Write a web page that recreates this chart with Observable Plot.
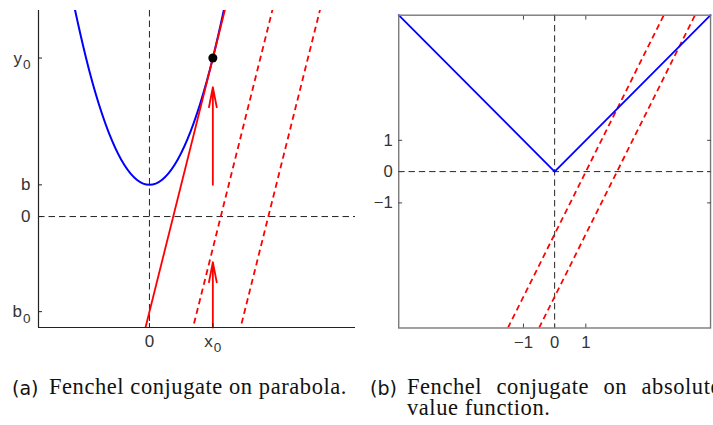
<!DOCTYPE html>
<html><head><meta charset="utf-8">
<script src="https://cdn.jsdelivr.net/npm/d3@7"></script>
<script src="https://cdn.jsdelivr.net/npm/@observablehq/plot@0.6"></script>
<style>
html,body{margin:0;padding:0;background:#fff;}
body{width:713px;height:425px;overflow:hidden;position:relative;}
#left{position:absolute;left:0;top:0;}
#right{position:absolute;left:360px;top:0;}
.cap{position:absolute;white-space:nowrap;line-height:20px;color:#111;}
.sans{font-family:"DejaVu Sans",sans-serif;font-size:19px;}
.serif{font-family:"Liberation Serif",serif;font-size:22.5px;}
</style></head><body>
<div id="left"></div><div id="right"></div>
<div class="cap sans" style="left:12px;top:378px">(a)</div>
<div class="cap serif" id="capA" style="left:49px;top:377px">Fenchel conjugate on parabola.</div>
<div class="cap sans" style="left:370px;top:378px">(b)</div>
<div class="cap serif" id="capB1" style="left:407px;top:377px">Fenchel conjugate on absolute</div>
<div class="cap serif" id="capB2" style="left:407px;top:398px">value function.</div>
<script>
// ---------- Panel (a): parabola ----------
const xDomainA = [-1.75, 3.25];
const yDomainA = [-0.875, 1.625];
const parabolaX = [-1.3, -1.2, -1.0, -0.8, -0.6, -0.4, -0.2, 0, 0.2, 0.4, 0.6, 0.8, 1.0, 1.2, 1.3];
const parabolaY = [1.94, 1.69, 1.25, 0.89, 0.61, 0.41, 0.29, 0.25, 0.29, 0.41, 0.61, 0.89, 1.25, 1.69, 1.94];
const lineNames = ["tangent", "shift1", "shift2"];
const lineX1 = [-0.1, 0.55, 1.3];
const lineY1 = [-0.95, -1.15, -1.15];
const lineX2 = [1.25, 2.0, 2.75];
const lineY2 = [1.75, 1.75, 1.75];
const arrowX = [1, 1];
const arrowY1 = [0.25, -0.875];
const arrowY2 = [1.02, -0.36];
const pointX = [1];
const pointY = [1.25];
const xTicksA = [0, 1];
const xTickLabelsA = ["0", "x_0"];
const yTicksA = [1.25, 0.25, 0, -0.75];
const yTickLabelsA = ["y_0", "b", "0", "b_0"];

// ---------- Panel (b): absolute value ----------
const xDomainB = [-5, 5];
const yDomainB = [-5, 5];
const absX = [-5, 0, 5];
const absY = [5, 0, 5];
const shiftX1 = [-1.5, -0.5];
const shiftY1 = [-5, -5];
const shiftX2 = [3.5, 4.5];
const shiftY2 = [5, 5];
const ticksB = [-1, 0, 1];

const parabola = parabolaX.map((x, i) => ({x, y: parabolaY[i]}));
const linesA = lineNames.map((name, i) => ({name, x1: lineX1[i], y1: lineY1[i], x2: lineX2[i], y2: lineY2[i]}));
const arrowsA = arrowX.map((x, i) => ({x, y1: arrowY1[i], y2: arrowY2[i]}));
const pointsA = pointX.map((x, i) => ({x, y: pointY[i]}));
const absData = absX.map((x, i) => ({x, y: absY[i]}));
const shiftsB = shiftX1.map((x, i) => ({x1: x, y1: shiftY1[i], x2: shiftX2[i], y2: shiftY2[i]}));

const dashBlack = {stroke: "#222", strokeWidth: 1, strokeDasharray: "6.5,4"};
const styleBase = {background: "transparent", overflow: "visible", color: "#333"};

function fixText(svg) {
  d3.select(svg).selectAll("text")
    .style("font-family", "'Liberation Sans', Arial, sans-serif")
    .style("font-size", "17px")
    .each(function () {
      const t = this.textContent;
      if (!t.includes("_")) return;
      const [a, b] = t.split("_");
      const sel = d3.select(this);
      sel.text(a);
      sel.append("tspan").attr("dx", "1").attr("dy", "0.42em").style("font-size", "13.5px").text(b);
    });
  return svg;
}

const left = Plot.plot({
  width: 360, height: 360,
  marginLeft: 38, marginRight: 5, marginTop: 10, marginBottom: 33,
  style: styleBase,
  x: {domain: xDomainA},
  y: {domain: yDomainA},
  marks: [
    Plot.ruleX([0], dashBlack),
    Plot.ruleY([0], dashBlack),
    Plot.link(linesA.filter(d => d.name !== "tangent"), {x1: "x1", y1: "y1", x2: "x2", y2: "y2", stroke: "red", strokeWidth: 1.8, strokeDasharray: "6,4", clip: true}),
    Plot.line(parabola, {x: "x", y: "y", stroke: "blue", strokeWidth: 2, curve: "natural", clip: true}),
    Plot.link(linesA.filter(d => d.name === "tangent"), {x1: "x1", y1: "y1", x2: "x2", y2: "y2", stroke: "red", strokeWidth: 1.8, clip: true}),
    Plot.arrow(arrowsA, {x1: "x", x2: "x", y1: "y1", y2: "y2", stroke: "red", strokeWidth: 1.8, headLength: 17, headAngle: 22}),
    Plot.dot(pointsA, {x: "x", y: "y", r: 4.5, fill: "black"}),
    Plot.ruleX([xDomainA[0]], {stroke: "#222", strokeWidth: 1.2}),
    Plot.ruleY([yDomainA[0]], {stroke: "#222", strokeWidth: 1.2}),
    Plot.axisY(yTicksA, {anchor: "left", tickSize: -4, tickPadding: 12, stroke: "#222",
      tickFormat: d => yTickLabelsA[yTicksA.indexOf(d)]}),
    Plot.axisX(xTicksA, {anchor: "bottom", tickSize: -4, tickPadding: 11, stroke: "#222",
      tickFormat: d => xTickLabelsA[xTicksA.indexOf(d)]})
  ]
});
document.getElementById("left").appendChild(fixText(left));

const right = Plot.plot({
  width: 360, height: 360,
  marginLeft: 39, marginRight: 3, marginTop: 15, marginBottom: 26,
  style: styleBase,
  x: {domain: xDomainB},
  y: {domain: yDomainB},
  marks: [
    Plot.ruleX([0], dashBlack),
    Plot.ruleY([0], dashBlack),
    Plot.link(shiftsB, {x1: "x1", y1: "y1", x2: "x2", y2: "y2", stroke: "red", strokeWidth: 1.8, strokeDasharray: "6,4", clip: true}),
    Plot.line(absData, {x: "x", y: "y", stroke: "blue", strokeWidth: 1.8}),
    Plot.frame({stroke: "#777", strokeWidth: 1.4}),
    Plot.axisY(ticksB, {anchor: "left", tickSize: -4, tickPadding: 10, stroke: "#444"}),
    Plot.axisY(ticksB, {anchor: "right", tickSize: -4, tickFormat: () => "", stroke: "#444"}),
    Plot.axisX(ticksB, {anchor: "bottom", tickSize: -4, tickPadding: 12, stroke: "#444"}),
    Plot.axisX(ticksB, {anchor: "top", tickSize: -4, tickFormat: () => "", stroke: "#444"})
  ]
});
document.getElementById("right").appendChild(fixText(right));

// fit caption widths (letter-spacing from caption (a), justification by word-spacing on (b) line 1)
const capA = document.getElementById("capA");
const capB1 = document.getElementById("capB1");
const capB2 = document.getElementById("capB2");
const tA = capA.textContent;
const ls = (298 - capA.getBoundingClientRect().width) / tA.length;
capA.style.letterSpacing = ls + "px";
capB2.style.letterSpacing = ls + "px";
capB1.style.letterSpacing = ls + "px";
const wB1 = capB1.getBoundingClientRect().width;
capB1.style.wordSpacing = ((314 - wB1) / 3) + "px";
</script>
</body></html>
